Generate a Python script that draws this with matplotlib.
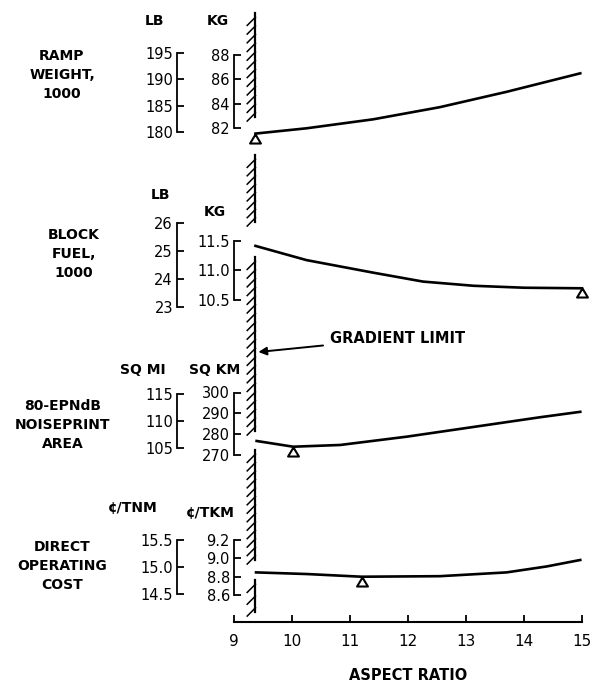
import matplotlib.pyplot as plt
import matplotlib.patheffects as pe
from matplotlib.transforms import blended_transform_factory

plt.rcParams['font.family'] = 'DejaVu Sans'

W, H = 593, 683

# values (aspect ratio vs. each quantity, primary units)
ramp_ar = [9.37, 10.25, 11.4, 12.55, 13.7, 14.97]
ramp_lb = [179.7, 180.7, 182.4, 184.7, 187.6, 191.1]

fuel_ar = [9.37, 10.25, 11.4, 12.26, 13.13, 14.0, 15.0]
fuel_lb = [25.18, 24.67, 24.22, 23.90, 23.75, 23.68, 23.66]

noise_ar = [9.39, 10.02, 10.83, 11.98, 13.13, 14.28, 14.97]
noise_mi = [106.3, 105.24, 105.56, 107.1, 108.9, 110.7, 111.7]

doc_ar = [9.38, 10.25, 11.2, 12.55, 13.7, 14.39, 14.97]
doc_tnm = [14.90, 14.87, 14.82, 14.83, 14.90, 15.01, 15.13]

# optimum points (open triangles), one per panel
opt_ar = [9.37, 15.0, 10.02, 11.2]
opt_val = [179.7, 23.66, 105.24, 14.82]

gradient_limit = 9.37

# tick values for the bracket scales
ramp_lb_ticks = [180, 185, 190, 195]
ramp_kg_ticks = [82, 84, 86, 88]
fuel_lb_ticks = [23, 24, 25, 26]
fuel_kg_ticks = [10.5, 11.0, 11.5]
noise_mi_ticks = [105, 110, 115]
noise_km_ticks = [270, 280, 290, 300]
doc_tnm_ticks = [14.5, 15.0, 15.5]
doc_tkm_ticks = [8.6, 8.8, 9.0, 9.2]
x_ticks = [9, 10, 11, 12, 13, 14, 15]

fig = plt.figure(figsize=(W / 100, H / 100), dpi=100)
x0, x1 = 234, 582  # pixel columns of aspect ratio 9 and 15


def val_at(px, ref):
    (v1, p1), (v2, p2) = ref
    return v1 + (px - p1) * (v2 - v1) / (p2 - p1)


def style_scale(a, ticks, fmt, outward, pad):
    for s in a.spines.values():
        s.set_visible(False)
    a.spines['left'].set_visible(True)
    a.spines['left'].set_position(('outward', outward))
    a.spines['left'].set_bounds(min(ticks), max(ticks))
    a.spines['left'].set_linewidth(1.3)
    a.yaxis.set_ticks_position('left')
    a.set_yticks(ticks)
    a.set_yticklabels([fmt.format(t) for t in ticks])
    a.tick_params(axis='y', direction='in', length=5, width=1.3,
                  labelsize=10.5, pad=pad)
    a.tick_params(axis='x', bottom=False, labelbottom=False)
    a.patch.set_visible(False)


# x axis (bottom)
base = fig.add_axes([x0 / W, 1 - 622 / H, (x1 - x0) / W, (622 - 10) / H])
base.set_xlim(9, 15)
base.set_ylim(0, 1)
for k in ['top', 'left', 'right']:
    base.spines[k].set_visible(False)
base.spines['bottom'].set_linewidth(1.5)
base.set_yticks([])
base.set_xticks(x_ticks)
base.tick_params(axis='x', direction='in', length=5, width=1.3, labelsize=11, pad=9)
base.set_xlabel('ASPECT RATIO', fontsize=10.5, fontweight='bold', labelpad=13)
base.patch.set_visible(False)

panels = [
    dict(box=(48, 136), ref1=((180, 132), (195, 52.7)), ref2=((82, 128.3), (88, 55)),
         t1=ramp_lb_ticks, t2=ramp_kg_ticks, f1='{:.0f}', f2='{:.0f}',
         x=ramp_ar, y=ramp_lb,
         name='RAMP\nWEIGHT,\n1000', name_xy=(62, 75),
         u1='LB', u1_xy=(155, 21), u2='KG', u2_xy=(218, 21)),
    dict(box=(218, 310), ref1=((23, 306.7), (26, 223)), ref2=((10.5, 300), (11.5, 241)),
         t1=fuel_lb_ticks, t2=fuel_kg_ticks, f1='{:.0f}', f2='{:.1f}',
         x=fuel_ar, y=fuel_lb,
         name='BLOCK\nFUEL,\n1000', name_xy=(74, 254),
         u1='LB', u1_xy=(160, 195), u2='KG', u2_xy=(215, 212)),
    dict(box=(388, 461), ref1=((105, 448), (115, 394)), ref2=((270, 455), (300, 392.5)),
         t1=noise_mi_ticks, t2=noise_km_ticks, f1='{:.0f}', f2='{:.0f}',
         x=noise_ar, y=noise_mi,
         name='80-EPNdB\nNOISEPRINT\nAREA', name_xy=(63, 425),
         u1='SQ MI', u1_xy=(143, 370), u2='SQ KM', u2_xy=(215, 370)),
    dict(box=(536, 599), ref1=((14.5, 594), (15.5, 540)), ref2=((8.6, 595), (9.2, 540)),
         t1=doc_tnm_ticks, t2=doc_tkm_ticks, f1='{:.1f}', f2='{:.1f}',
         x=doc_ar, y=doc_tnm,
         name='DIRECT\nOPERATING\nCOST', name_xy=(62, 566),
         u1='¢/TNM', u1_xy=(133, 508), u2='¢/TKM', u2_xy=(210, 513)),
]

tri = [(0, 0), (-0.6, -1), (0.6, -1), (0, 0)]

for i, p in enumerate(panels):
    top, bot = p['box']
    ax = fig.add_axes([x0 / W, 1 - bot / H, (x1 - x0) / W, (bot - top) / H], sharex=base)
    ax.set_ylim(val_at(bot, p['ref1']), val_at(top, p['ref1']))
    ax2 = ax.twinx()
    ax2.set_ylim(val_at(bot, p['ref2']), val_at(top, p['ref2']))
    style_scale(ax, p['t1'], p['f1'], 41, 3)
    style_scale(ax2, p['t2'], p['f2'], 0, 3)

    ax.plot(p['x'], p['y'], color='black', lw=1.9, clip_on=False, zorder=3)
    ax.plot(opt_ar[i], opt_val[i], marker=tri, markersize=13, mfc='white',
            mec='black', mew=1.5, clip_on=False, zorder=4)

    fig.text(p['name_xy'][0] / W, 1 - p['name_xy'][1] / H, p['name'],
             ha='center', va='center', fontsize=10, fontweight='bold', linespacing=1.45)
    fig.text(p['u1_xy'][0] / W, 1 - p['u1_xy'][1] / H, p['u1'],
             ha='center', va='center', fontsize=10, fontweight='bold')
    fig.text(p['u2_xy'][0] / W, 1 - p['u2_xy'][1] / H, p['u2'],
             ha='center', va='center', fontsize=10, fontweight='bold')

# hatched gradient-limit line, broken where the curves start
trans = blended_transform_factory(base.transData, fig.transFigure)
for t, b in [(13, 117), (155, 222), (257, 431), (450, 560), (580, 612)]:
    base.plot([gradient_limit, gradient_limit], [1 - b / H, 1 - t / H], transform=trans,
              color='black', lw=1.6, clip_on=False,
              path_effects=[pe.withTickedStroke(angle=135, spacing=6, length=1.4,
                                                linewidth=1.1)])

base.annotate('GRADIENT LIMIT', xy=(gradient_limit + 0.05, 1 - 352 / H), xycoords=trans,
              xytext=(330 / W, 1 - 338 / H), textcoords='figure fraction',
              ha='left', va='center', fontsize=10.5, fontweight='bold',
              arrowprops=dict(arrowstyle='-|>', color='black', lw=1.4,
                              shrinkA=3, shrinkB=0, mutation_scale=12))

fig.savefig('out.png', dpi=100)
